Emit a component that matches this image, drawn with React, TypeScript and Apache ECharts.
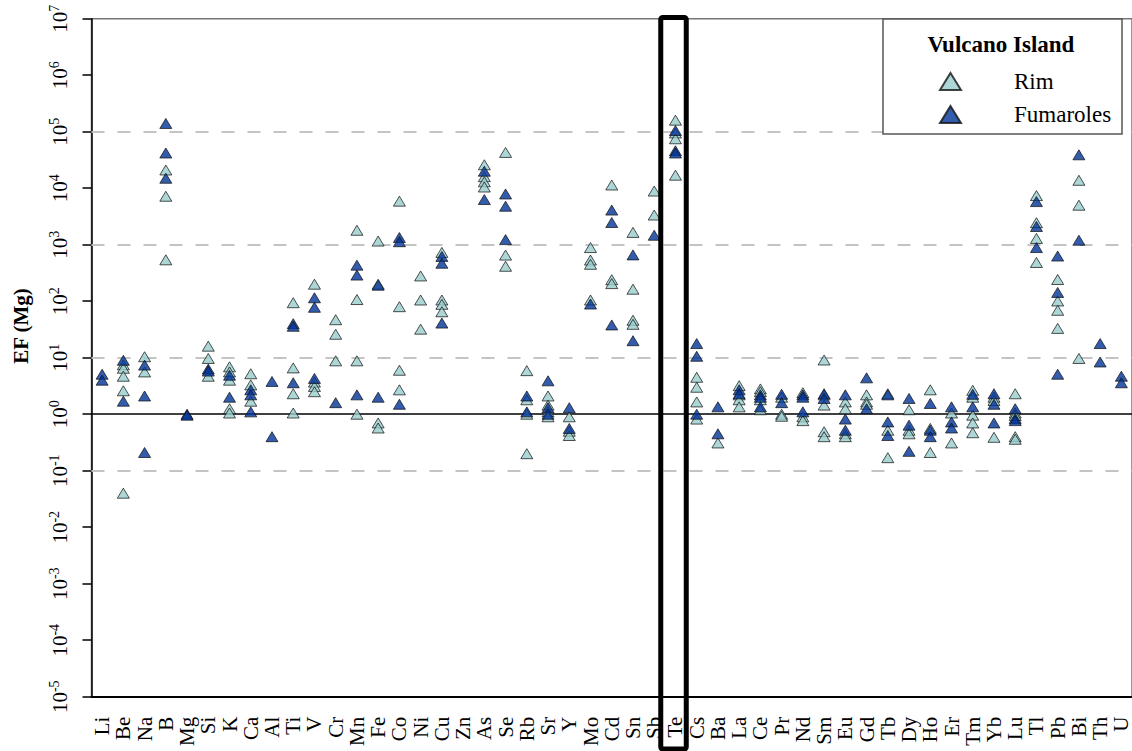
import React, { useEffect, useRef } from "react";
import * as echarts from "echarts";

const FONT = "Liberation Serif, Times New Roman, serif";

const elements = [
  "Li", "Be", "Na", "B", "Mg", "Si", "K", "Ca", "Al", "Ti", "V", "Cr", "Mn", "Fe",
  "Co", "Ni", "Cu", "Zn", "As", "Se", "Rb", "Sr", "Y", "Mo", "Cd", "Sn", "Sb", "Te",
  "Cs", "Ba", "La", "Ce", "Pr", "Nd", "Sm", "Eu", "Gd", "Tb", "Dy", "Ho", "Er", "Tm",
  "Yb", "Lu", "Tl", "Pb", "Bi", "Th", "U",
];

// Enrichment factors (normalised to Mg), one list per element, same order as `elements`
const rimValues: number[][] = [
  [], [7.5, 6.5, 4.7, 2.6, 0.04], [10.4, 5.6], [2.1e4, 7.2e3, 540], [],
  [16, 9.7, 4.7], [6.9, 5.6, 4.0, 1.25, 1.05], [5.2, 3.3, 1.7], [],
  [94, 6.6, 2.3, 1.05], [200, 3.7, 3.1, 2.5], [47, 26, 8.8], [1800, 107, 8.8, 1.0],
  [1160, 200, 0.7, 0.57], [5900, 80, 6.0, 2.7], [280, 105, 32], [730, 105, 88, 65], [],
  [2.6e4, 1.6e4, 1.3e4, 1.05e4], [4.3e4, 655, 415], [5.9, 1.8, 1.0, 0.2],
  [2.1, 1.45, 1.1, 0.9], [0.9, 0.5, 0.42], [890, 535, 450, 105], [1.14e4, 240, 205],
  [1650, 163, 46, 39], [8900, 3350], [1.6e5, 9.5e4, 7.5e4, 1.7e4],
  [4.5, 3.0, 1.65, 0.82], [0.31], [3.2, 2.2, 1.8, 1.35], [2.8, 2.5, 1.8, 1.2],
  [2.0, 1.0, 0.92], [2.4, 0.9, 0.77], [9.1, 2.2, 1.45, 0.49, 0.4], [1.65, 1.25, 0.45, 0.4],
  [2.2, 1.65, 1.5], [2.3, 0.52, 0.17], [1.2, 0.52, 0.45], [2.7, 0.56, 0.21], [1.05, 0.31],
  [2.65, 2.0, 0.96, 0.7, 0.47], [2.0, 1.75, 0.39], [2.3, 1.05, 0.95, 0.4, 0.36],
  [7400, 2450, 1290, 485], [242, 101, 69, 33], [1.38e4, 5000, 9.7], [], [],
];

const fumaroleValues: number[][] = [
  [5.1, 4.0], [9.0, 1.7], [7.4, 2.1, 0.21], [1.4e5, 4.2e4, 1.5e4], [1.0, 0.96],
  [6.3, 5.8], [4.9, 2.0], [2.7, 2.2, 1.1], [3.8, 0.4], [40, 36, 3.6], [115, 78, 4.3],
  [1.6], [435, 290, 2.2], [192, 2.0], [1340, 1130, 1.5], [], [620, 470, 41], [],
  [2.0e4, 6300], [7900, 4800, 1230], [2.1, 1.1], [3.9, 1.3, 1.0], [1.3, 0.56], [89],
  [4100, 2470, 38], [660, 20], [1470], [1.05e5, 4.6e4, 4.2e4], [17.8, 10.6, 1.0],
  [1.35, 0.45], [2.7, 2.3], [2.2, 2.0, 1.35], [2.25, 1.6], [2.2, 2.0, 1.1], [2.3, 1.9],
  [2.2, 0.82, 0.52], [4.4, 1.25], [2.2, 0.73, 0.42], [1.9, 0.64, 0.22], [1.55, 0.52, 0.4],
  [1.35, 0.73, 0.57], [2.25, 1.35], [2.3, 1.5, 0.7], [1.25, 0.84, 0.77],
  [5800, 2100, 890], [630, 143, 5.1], [3.9e4, 1200], [17.8, 8.4], [4.7, 3.6],
];

const seriesNames = ["Rim", "Fumaroles"];
const seriesColors = ["#99CCCC", "#003399"];
const dashedLevels = [1e5, 1e3, 1e1, 1e-1, 1e-3];
const unityLevel = 1;
const yMin = 1e-5;
const yMax = 1e7;
const legendTitle = "Vulcano Island";
const yAxisTitle = "EF (Mg)";
const highlighted = "Te";

function toPoints(values: number[][]): [number, number][] {
  const pts: [number, number][] = [];
  values.forEach((vals, i) => vals.forEach((v) => pts.push([i, v])));
  return pts;
}

export default function App() {
  const ref = useRef<HTMLDivElement>(null);

  useEffect(() => {
    document.body.style.margin = "0";
    const chart = echarts.init(ref.current!, null, { renderer: "svg" });

    const gridLeft = 91.5;
    const gridTop = 18.7;
    const gridWidth = 1044;
    const gridHeight = 678;

    const markerStyle = (color: string) => ({
      color,
      borderColor: "#111",
      borderWidth: 0.9,
    });

    const option: any = {
      animation: false,
      backgroundColor: "#fff",
      textStyle: { fontFamily: FONT },
      grid: {
        left: gridLeft,
        top: gridTop,
        width: gridWidth,
        height: gridHeight,
        show: true,
        borderColor: "#777",
        borderWidth: 1.5,
        backgroundColor: "transparent",
      },
      legend: {
        orient: "vertical",
        left: 934,
        top: 65,
        itemWidth: 21,
        itemHeight: 17,
        itemGap: 10,
        data: seriesNames.map((n) => ({ name: n, icon: "triangle" })),
        textStyle: {
          fontFamily: FONT,
          fontSize: 23,
          color: "#000",
          lineHeight: 23,
          padding: [0, 0, 0, 48],
        },
        z: 6,
      },
      xAxis: {
        type: "category",
        data: elements,
        boundaryGap: true,
        axisLine: { lineStyle: { color: "#000", width: 2 } },
        axisTick: {
          alignWithLabel: true,
          length: 10,
          lineStyle: { color: "#000", width: 1.5 },
        },
        axisLabel: {
          interval: 0,
          rotate: 90,
          margin: 20,
          fontFamily: FONT,
          fontSize: 21,
          color: "#000",
        },
        splitLine: { show: false },
      },
      yAxis: {
        type: "log",
        logBase: 10,
        min: yMin,
        max: yMax,
        interval: 1,
        axisLine: { show: true, lineStyle: { color: "#000", width: 1.5 } },
        axisTick: { show: true, length: 9, lineStyle: { color: "#000", width: 1.5 } },
        splitLine: { show: false },
        axisLabel: {
          rotate: 90,
          margin: 20,
          formatter: (v: number) => {
            const e = Math.round(Math.log10(v));
            return `{b|10}{s|${e}}`;
          },
          rich: {
            b: { fontFamily: FONT, fontSize: 21, color: "#000", lineHeight: 24 },
            s: {
              fontFamily: FONT,
              fontSize: 14,
              color: "#000",
              lineHeight: 14,
              verticalAlign: "top",
            },
          },
        },
      },
      series: [
        {
          name: seriesNames[0],
          type: "scatter",
          symbol: "triangle",
          symbolSize: [12, 10],
          itemStyle: markerStyle(seriesColors[0]),
          data: toPoints(rimValues),
          z: 3,
          markLine: {
            silent: true,
            symbol: "none",
            label: { show: false },
            data: [
              ...dashedLevels.map((y) => ({
                yAxis: y,
                lineStyle: { color: "#c4c4c4", width: 2, type: [13, 13] },
              })),
              { yAxis: unityLevel, lineStyle: { color: "#000", width: 1.5, type: "solid" } },
            ],
            z: 1,
          },
        },
        {
          name: seriesNames[1],
          type: "scatter",
          symbol: "triangle",
          symbolSize: [12, 10],
          itemStyle: markerStyle(seriesColors[1]),
          data: toPoints(fumaroleValues),
          z: 4,
        },
      ],
      graphic: [
        {
          type: "rect",
          z: 5,
          shape: { x: 883, y: 19, width: 239, height: 115 },
          style: { fill: "#fff", stroke: "#555", lineWidth: 1.5 },
        },
        {
          type: "text",
          z: 7,
          x: 1001,
          y: 44,
          style: {
            text: legendTitle,
            fontFamily: FONT,
            fontSize: 23,
            fontWeight: "bold",
            fill: "#000",
            align: "center",
            verticalAlign: "middle",
          },
        },
        {
          type: "text",
          z: 7,
          x: 21,
          y: 326,
          rotation: Math.PI / 2,
          style: {
            text: yAxisTitle,
            fontFamily: FONT,
            fontSize: 21,
            fontWeight: "bold",
            fill: "#000",
            align: "center",
            verticalAlign: "middle",
          },
        },
      ],
    };

    chart.setOption(option);

    // Frame around the highlighted element column, positioned from the axis
    const cx = chart.convertToPixel({ xAxisIndex: 0 }, highlighted) as number;
    chart.setOption({
      graphic: [
        ...option.graphic,
        {
          type: "rect",
          z: 10,
          shape: { x: cx - 14.7, y: 17.5, width: 25.5, height: 731.5, r: 2 },
          style: { fill: "none", stroke: "#000", lineWidth: 5 },
        },
      ],
    });

    return () => chart.dispose();
  }, []);

  return (
    <div
      ref={ref}
      style={{ position: "absolute", left: 0, top: 0, width: 1132, height: 751 }}
    />
  );
}
